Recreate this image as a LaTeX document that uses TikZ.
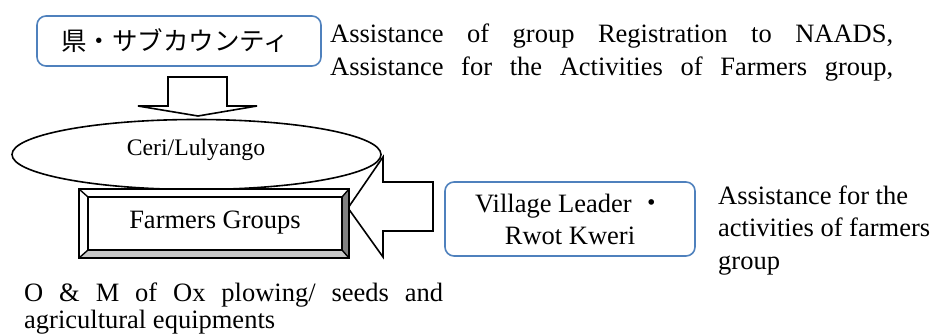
\documentclass[tikz,border=0pt]{standalone}
\usepackage{fontspec}
\setmainfont{Liberation Serif}
\newfontfamily\jpfont{Noto Sans CJK JP}
\definecolor{frameblue}{RGB}{79,129,189}
\definecolor{bevdark}{RGB}{128,128,128}
\definecolor{bevlight}{RGB}{200,200,200}
\begin{document}
\begin{tikzpicture}[x=1pt,y=-1pt,
  roundbox/.style={draw=frameblue,line width=1.6pt,rounded corners=9pt},
  blockarrow/.style={draw=black,line width=1.6pt,line join=miter},
  bodytext/.style={inner sep=0pt,anchor=base west,font=\fontsize{26.5}{32}\selectfont},
  edgeline/.style={draw=black,line width=1.4pt}]
\useasboundingbox (0,0) rectangle (933,334);

% ellipse for the local group
\draw[line width=1.6pt] (196.5,154.5) ellipse [x radius=184.5, y radius=35];
\node[inner sep=0pt,anchor=base,font=\fontsize{23.7}{28}\selectfont] (ceri) at (196,155) {Ceri/Lulyango};

% district / sub-county box
\draw[roundbox] (37,16) rectangle (321,66);
\node[inner sep=0pt,font=\jpfont\fontsize{25.5}{30}\selectfont] (county) at (175,41) {県・サブカウンティ};

% downward block arrow
\draw[blockarrow] (168,77) -- (227,77) -- (227,106) -- (257,106) -- (198,116)
  -- (138,106) -- (168,106) -- cycle;

% leftward block arrow
\draw[blockarrow] (433,182) -- (433,231) -- (383,231) -- (383,257) -- (348,208)
  -- (383,157) -- (383,182) -- cycle;

% bevelled farmers box
\fill[white] (79,189) rectangle (349,258);
\fill[bevdark] (349,189) -- (342,197) -- (342,250) -- (349,258) -- cycle;
\fill[bevlight] (79,258) -- (88,250) -- (342,250) -- (349,258) -- cycle;
\draw[edgeline,line width=1.8pt] (79,189) rectangle (349,258);
\draw[edgeline] (88,197) rectangle (342,250);
\draw[edgeline] (79,189) -- (88,197) (349,189) -- (342,197)
  (79,258) -- (88,250) (349,258) -- (342,250);
\node[inner sep=0pt,font=\fontsize{26.5}{32}\selectfont] (farmers) at (215,223) {Farmers Groups};

% village leader box
\draw[roundbox] (445,182) rectangle (695,256);
\node[inner sep=0pt,align=center,font=\fontsize{26.5}{32}\selectfont] (village) at (570,219)
  {Village Leader {\jpfont ・}\\Rwot Kweri};

% explanatory texts
\node[bodytext] (topA) at (330,43) {\makebox[563pt][s]{Assistance of group Registration to NAADS,}};
\node[bodytext] (topB) at (330,76) {\makebox[563pt][s]{Assistance for the Activities of Farmers group,}};

\node[bodytext] (rightA) at (718,204) {Assistance for the};
\node[bodytext] (rightB) at (718,236.5) {activities of farmers};
\node[bodytext] (rightC) at (718,269) {group};

\node[bodytext] (botA) at (24,301) {\makebox[419pt][s]{O \& M of Ox plowing/ seeds and}};
\node[bodytext] (botB) at (24,328) {agricultural equipments};
\end{tikzpicture}
\end{document}
